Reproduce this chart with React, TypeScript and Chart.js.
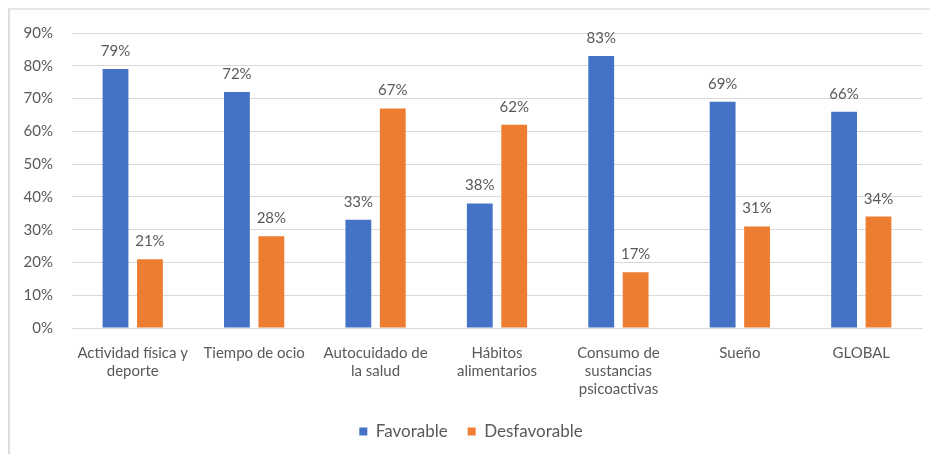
import React, { useEffect, useRef } from "react";
import { Chart, registerables } from "chart.js";

Chart.register(...registerables);

const categories: (string | string[])[] = [
  ["Actividad física y", "deporte"],
  "Tiempo de ocio",
  ["Autocuidado de", "la salud"],
  ["Hábitos", "alimentarios"],
  ["Consumo de", "sustancias", "psicoactivas"],
  "Sueño",
  "GLOBAL",
];
const favorable = [0.79, 0.72, 0.33, 0.38, 0.83, 0.69, 0.66];
const desfavorable = [0.21, 0.28, 0.67, 0.62, 0.17, 0.31, 0.34];
const seriesNames = ["Favorable", "Desfavorable"];
const yMax = 0.9;
const yStep = 0.1;

const FONT = "Lato, 'Liberation Sans', sans-serif";
const TEXT = "#595959";

const labelPlugin = {
  id: "barLabels",
  afterDatasetsDraw(chart: any) {
    const ctx = chart.ctx;
    ctx.save();
    ctx.font = `15px ${FONT}`;
    ctx.fillStyle = TEXT;
    ctx.textAlign = "center";
    ctx.textBaseline = "alphabetic";
    chart.data.datasets.forEach((ds: any, i: number) => {
      const meta = chart.getDatasetMeta(i);
      meta.data.forEach((el: any, j: number) => {
        const v = ds.data[j];
        ctx.fillText(Math.round(v * 100) + "%", el.x, el.y - 13);
      });
    });
    ctx.restore();
  },
};

export default function App() {
  const ref = useRef<HTMLCanvasElement | null>(null);
  useEffect(() => {
    if (!ref.current) return;
    const chart = new Chart(ref.current, {
      type: "bar",
      data: {
        labels: categories,
        datasets: [
          {
            label: seriesNames[0],
            data: favorable,
            backgroundColor: "#4472C4",
            categoryPercentage: 0.567,
            barPercentage: 0.75,
          },
          {
            label: seriesNames[1],
            data: desfavorable,
            backgroundColor: "#ED7D31",
            categoryPercentage: 0.567,
            barPercentage: 0.75,
          },
        ],
      },
      options: {
        animation: false,
        responsive: false,
        maintainAspectRatio: false,
        layout: { padding: { left: 10, right: 8, top: 23, bottom: 4 } },
        plugins: {
          tooltip: { enabled: false },
          legend: {
            position: "bottom",
            labels: {
              boxWidth: 8,
              boxHeight: 8,
              padding: 20,
              color: TEXT,
              font: { family: FONT, size: 17 },
            },
          },
        },
        scales: {
          x: {
            grid: { display: false, drawTicks: false },
            border: { color: "#d9d9d9" },
            ticks: {
              color: TEXT,
              font: { family: FONT, size: 15, lineHeight: 1.2 },
              padding: 16,
              maxRotation: 0,
              autoSkip: false,
            },
            afterFit: (s: any) => {
              s.height = 75;
            },
          },
          y: {
            min: 0,
            max: yMax,
            grid: {
              color: "#d9d9d9",
              drawTicks: true,
              tickLength: 15,
              tickColor: "rgba(0,0,0,0)",
            },
            border: { display: false },
            ticks: {
              stepSize: yStep,
              color: TEXT,
              padding: 4,
              font: { family: FONT, size: 15 },
              callback: (v: any) => Math.round(Number(v) * 100) + "%",
            },
            afterFit: (s: any) => {
              s.width = 52;
            },
          },
        },
      },
      plugins: [labelPlugin],
    });
    return () => chart.destroy();
  }, []);
  return (
    <div
      style={{
        position: "absolute",
        left: 8,
        top: 8,
        width: 922,
        height: 446,
        borderLeft: "2px solid #dedede",
        borderTop: "2px solid #e6e6e6",
        background: "#fff",
        boxSizing: "border-box",
      }}
    >
      <canvas ref={ref} width={920} height={444} style={{ display: "block" }} />
    </div>
  );
}
